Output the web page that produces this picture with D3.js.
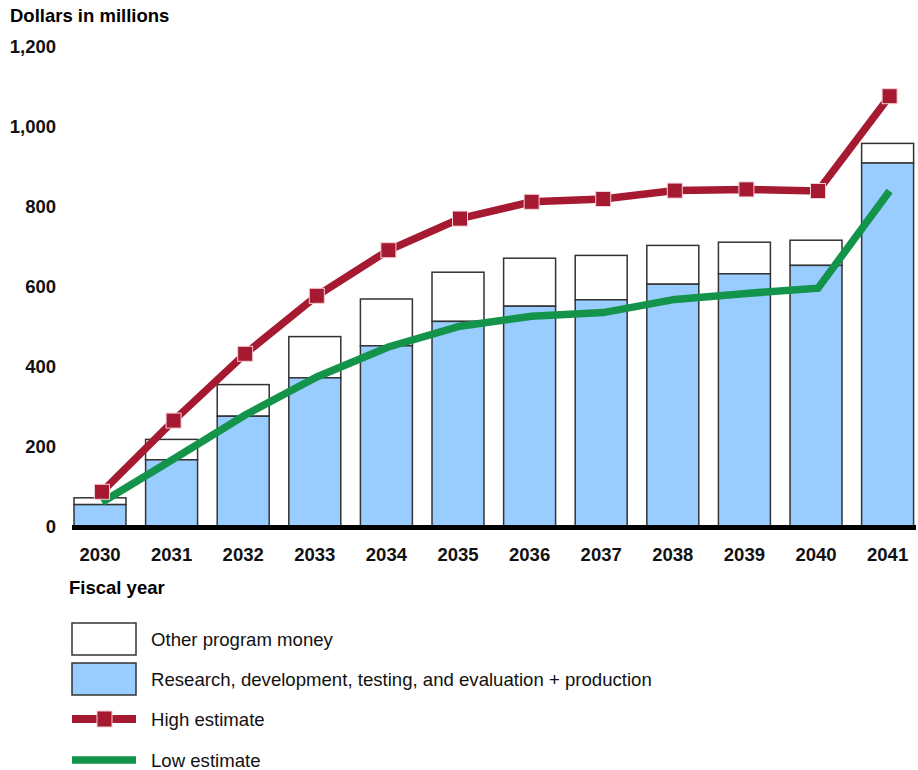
<!DOCTYPE html>
<html>
<head>
<meta charset="utf-8">
<script src="https://cdn.jsdelivr.net/npm/d3@7"></script>
<style>
  html, body { margin: 0; padding: 0; background: #fff; }
  svg { display: block; font-family: "Liberation Sans", Arial, sans-serif; }
</style>
</head>
<body>
<svg id="chart" width="918" height="770"></svg>
<script>
// Fiscal years and funding (dollars in millions)
const years = ["2030","2031","2032","2033","2034","2035","2036","2037","2038","2039","2040","2041"];
const rdteProduction = [56, 168, 277, 373, 453, 514, 552, 568, 607, 633, 654, 910];
const totalFunding   = [73, 219, 356, 476, 570, 637, 672, 679, 704, 712, 717, 959];
const highEstimate   = [88, 266, 433, 578, 692, 771, 813, 820, 841, 844, 840, 1077];
const lowEstimate    = [62, 170, 280, 375, 450, 502, 527, 536, 569, 584, 597, 840];
const yTicks = [0, 200, 400, 600, 800, 1000, 1200];

const legendItems = [
  { label: "Other program money", kind: "box", fill: "#ffffff" },
  { label: "Research, development, testing, and evaluation + production", kind: "box", fill: "#99ccff" },
  { label: "High estimate", kind: "high" },
  { label: "Low estimate", kind: "low" }
];

const RED = "#a51931";
const GREEN = "#14934a";
const BLUE = "#99ccff";
const EDGE = "#333333";

const svg = d3.select("#chart");

const x = d3.scaleBand().domain(years).range([74, 913.6]).paddingInner(0.274).paddingOuter(0);
const y = d3.scaleLinear().domain([0, 1200]).range([527, 47]);
const cx = d => x(d) + x.bandwidth() / 2 + 2;

// Axis title
svg.append("text")
  .attr("x", 10).attr("y", 22)
  .attr("font-size", 18.5).attr("font-weight", "bold")
  .text("Dollars in millions");

// Y axis labels (no axis line)
const yAxis = d3.axisLeft(y).tickValues(yTicks).tickSize(0).tickPadding(0)
  .tickFormat(d3.format(","));
const yG = svg.append("g").attr("transform", "translate(56,0)").call(yAxis);
yG.select(".domain").remove();
yG.selectAll("text")
  .attr("font-size", 18.5).attr("font-weight", "bold")
  .attr("font-family", "Liberation Sans, Arial, sans-serif")
  .attr("fill", "#111");

// Stacked bars: RDT&E + production at the bottom, other money on top
const bars = svg.append("g");
years.forEach((yr, i) => {
  bars.append("rect")
    .attr("x", x(yr)).attr("width", x.bandwidth())
    .attr("y", y(totalFunding[i])).attr("height", y(rdteProduction[i]) - y(totalFunding[i]))
    .attr("fill", "#fff").attr("stroke", EDGE).attr("stroke-width", 1.5);
  bars.append("rect")
    .attr("x", x(yr)).attr("width", x.bandwidth())
    .attr("y", y(rdteProduction[i])).attr("height", y(0) - y(rdteProduction[i]))
    .attr("fill", BLUE).attr("stroke", EDGE).attr("stroke-width", 1.5);
});

// Baseline
svg.append("line")
  .attr("x1", 72).attr("x2", 916)
  .attr("y1", y(0) + 0.5).attr("y2", y(0) + 0.5)
  .attr("stroke", "#000").attr("stroke-width", 5);

// X axis labels
const xAxis = d3.axisBottom(x).tickSize(0).tickPadding(0);
const xG = svg.append("g").attr("transform", "translate(0,548)").call(xAxis);
xG.select(".domain").remove();
xG.selectAll("text")
  .attr("font-size", 18.5).attr("font-weight", "bold")
  .attr("font-family", "Liberation Sans, Arial, sans-serif")
  .attr("fill", "#111");

svg.append("text")
  .attr("x", 69).attr("y", 594)
  .attr("font-size", 18.5).attr("font-weight", "bold")
  .text("Fiscal year");

// Low estimate line
const line = d3.line().x(d => cx(d.year)).y(d => y(d.v));
svg.append("path")
  .datum(years.map((yr, i) => ({ year: yr, v: lowEstimate[i] })))
  .attr("d", line)
  .attr("fill", "none").attr("stroke", GREEN).attr("stroke-width", 7.5)
  .attr("stroke-linejoin", "miter");

// High estimate line with square markers
const highData = years.map((yr, i) => ({ year: yr, v: highEstimate[i] }));
svg.append("path")
  .datum(highData)
  .attr("d", line)
  .attr("fill", "none").attr("stroke", RED).attr("stroke-width", 7.5);
svg.append("g").selectAll("rect").data(highData).join("rect")
  .attr("x", d => cx(d.year) - 7.5).attr("y", d => y(d.v) - 7.5)
  .attr("width", 15).attr("height", 15)
  .attr("fill", RED).attr("stroke", "#f2d0d6").attr("stroke-width", 1);

// Legend
const lg = svg.append("g");
const rowY = [639, 679, 719, 760];
legendItems.forEach((item, i) => {
  const cy = rowY[i];
  if (item.kind === "box") {
    lg.append("rect").attr("x", 72).attr("y", cy - 16).attr("width", 64).attr("height", 32)
      .attr("fill", item.fill).attr("stroke", EDGE).attr("stroke-width", 1.5);
  } else if (item.kind === "high") {
    lg.append("line").attr("x1", 72).attr("x2", 136).attr("y1", cy).attr("y2", cy)
      .attr("stroke", RED).attr("stroke-width", 8);
    lg.append("rect").attr("x", 97).attr("y", cy - 8).attr("width", 15).attr("height", 16)
      .attr("fill", RED).attr("stroke", "#f2d0d6").attr("stroke-width", 1);
  } else {
    lg.append("line").attr("x1", 72).attr("x2", 136).attr("y1", cy).attr("y2", cy)
      .attr("stroke", GREEN).attr("stroke-width", 7.5);
  }
  lg.append("text").attr("x", 151).attr("y", cy + 6.5)
    .attr("font-size", 18.6).attr("fill", "#111")
    .text(item.label);
});
</script>
</body>
</html>
